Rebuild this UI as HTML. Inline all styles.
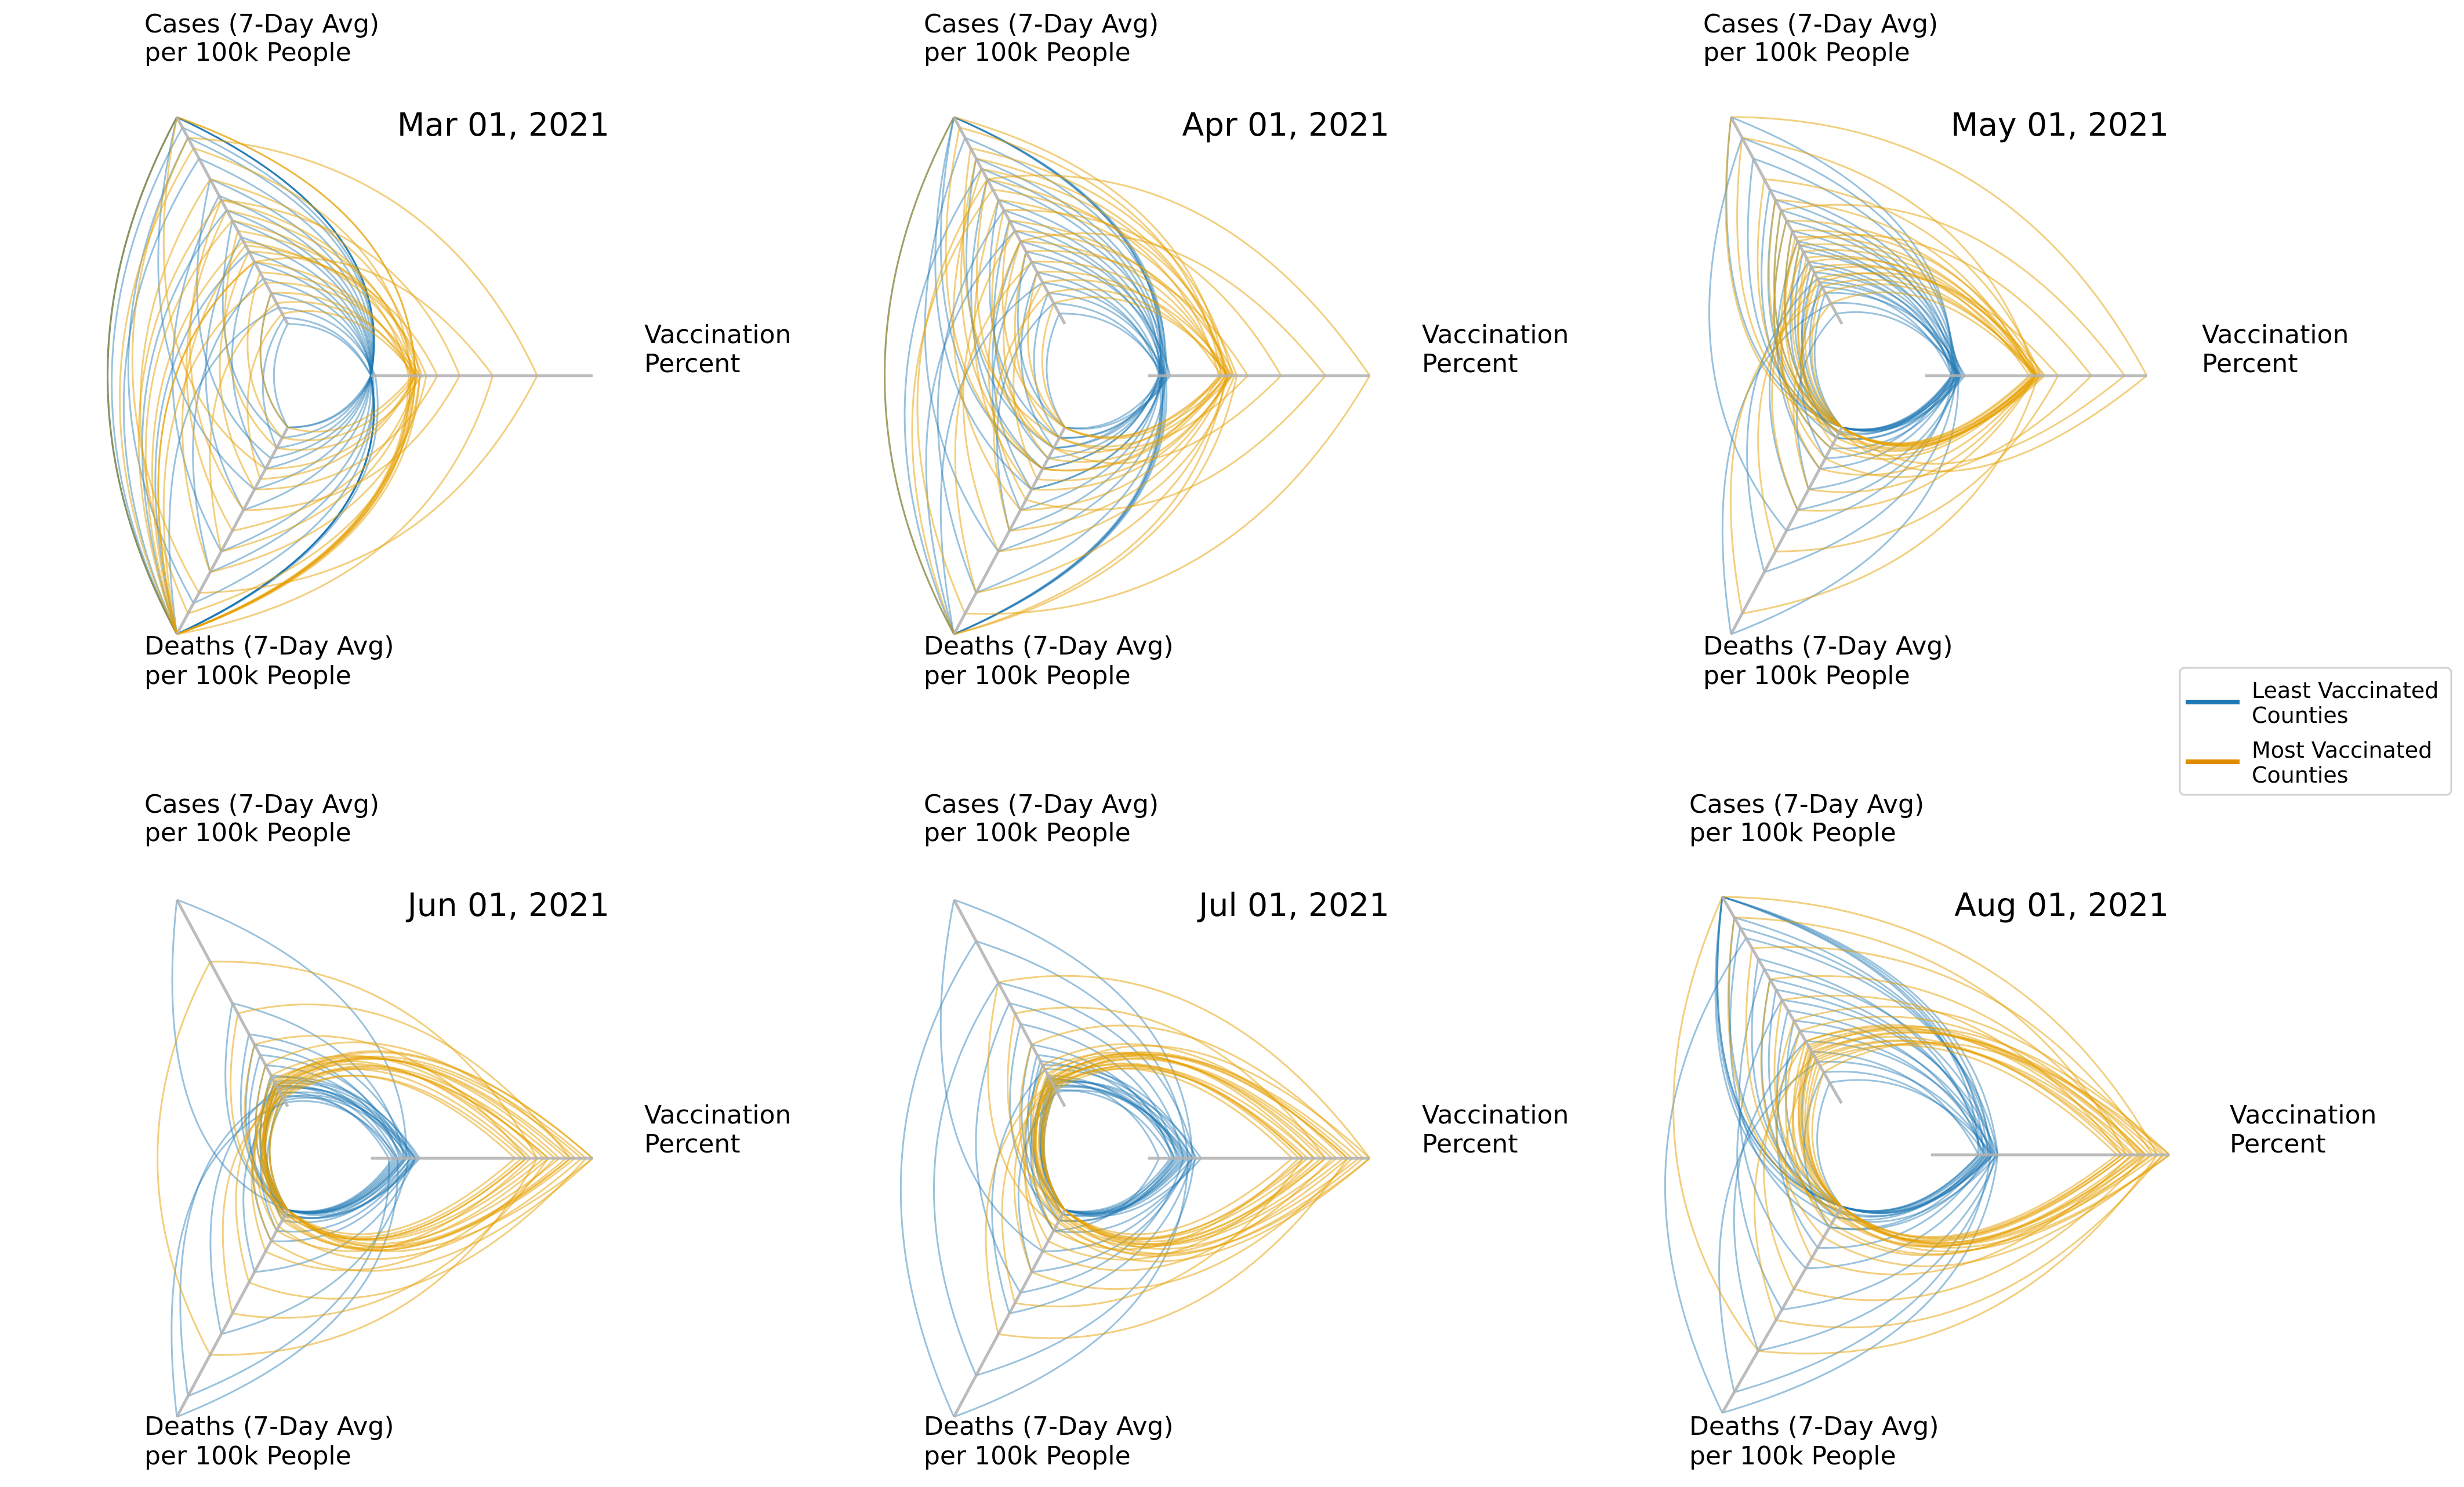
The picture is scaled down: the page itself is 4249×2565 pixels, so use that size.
<!DOCTYPE html>
<html><head><meta charset="utf-8">
<style>
html,body{margin:0;padding:0;background:#fff;}
svg{display:block;}
text{font-family:"DejaVu Sans","Liberation Sans",sans-serif;fill:#000;}
</style></head>
<body>
<svg id="chart" width="4249" height="2565" viewBox="0 0 4249 2565" xmlns="http://www.w3.org/2000/svg">
<g id="panels"></g>
<g>
<rect x="3759" y="1152" width="468" height="219" rx="8" fill="#fff" stroke="#d0d0d0" stroke-width="3"/>
<line x1="3769" y1="1211" x2="3862" y2="1211" stroke="#1f77b4" stroke-width="8"/>
<text x="3883" y="1204" font-size="38">Least Vaccinated</text>
<text x="3883" y="1247" font-size="38">Counties</text>
<line x1="3769" y1="1314" x2="3862" y2="1314" stroke="#e08c00" stroke-width="8"/>
<text x="3883" y="1307" font-size="38">Most Vaccinated</text>
<text x="3883" y="1350" font-size="38">Counties</text>
</g>
</svg>
<script>
const dates = ["Mar 01, 2021","Apr 01, 2021","May 01, 2021","Jun 01, 2021","Jul 01, 2021","Aug 01, 2021"];

const marLeastVacc=[0,0,0,0,0,0,0,0,0,0,0,0,0,0,0,0.01,0.01,0.02,0,0];
const marLeastCases=[1,1,1,1,1,0.95,0.9,0.8,0.7,0.62,0.55,0.5,0.42,0.35,0.3,0.22,0.15,0.08,0.03,0];
const marLeastDeaths=[1,1,1,0.3,1,1,0.85,1,0.15,0.6,1,0.05,0.4,1,0.2,0.7,0,1,0.1,0];
const marMostVacc=[0.2,0.18,0.22,0.2,0.19,0.21,0.17,0.23,0.2,0.25,0.3,0.18,0.2,0.22,0.4,0.19,0.55,0.21,0.75,0.2];
const marMostCases=[1,0.85,0.7,1,0.6,0.55,0.5,0.45,0.4,0.38,0.35,0.3,0.25,0.2,0.6,0.15,0.3,0.1,0.9,0.05];
const marMostDeaths=[1,1,0.9,0.2,1,0.5,1,0.1,1,0.7,0.3,1,0.05,1,0.4,0,1,0.6,0.8,0.25];

const aprLeastVacc=[0.05,0.07,0.06,0.08,0.07,0.06,0.05,0.09,0.07,0.06,0.08,0.07,0.1,0.06,0.05,0.07,0.08,0.06,0.07,0.05];
const aprLeastCases=[1,1,1,0.9,0.8,0.75,0.7,0.6,0.55,0.5,0.45,0.4,0.35,0.3,0.25,0.2,0.15,0.1,0.05,1];
const aprLeastDeaths=[1,0.3,1,0.6,0.1,1,0.2,0.05,0.8,0.15,1,0.3,0,0.4,0.1,1,0.05,0.5,0,0.2];
const aprMostVacc=[0.35,0.33,0.38,0.36,0.32,0.4,0.37,0.34,0.39,0.35,0.45,0.36,0.33,0.38,0.6,0.36,0.8,0.37,1,0.35];
const aprMostCases=[1,0.95,0.85,0.75,0.7,0.65,0.6,0.5,0.45,0.4,0.35,0.3,0.25,0.2,0.55,0.15,0.4,0.1,0.7,0.8];
const aprMostDeaths=[1,0.2,0.05,0.4,0.1,1,0.3,0,0.6,0.15,0.05,0.8,0,0.25,0.1,0.5,0.35,0,0.9,0.2];

const mayLeastVacc=[0.12,0.14,0.15,0.13,0.16,0.15,0.14,0.12,0.17,0.15,0.13,0.16,0.14,0.15,0.12,0.18,0.15,0.14,0.16,0.13];
const mayLeastCases=[1,0.8,0.65,0.55,0.5,0.45,0.4,0.38,0.35,0.3,0.28,0.25,0.22,0.2,0.18,0.15,0.1,0.6,0.05,0.9];
const mayLeastDeaths=[0,0,0.05,0,0.1,0,0.2,0.03,0,0.4,0,0.05,0.7,0,0.15,0,1,0.02,0.3,0.5];
const mayMostVacc=[0.5,0.52,0.48,0.5,0.53,0.49,0.51,0.5,0.47,0.52,0.5,0.54,0.49,0.6,0.5,0.75,0.51,0.9,0.5,1];
const mayMostCases=[0.9,0.7,0.6,0.5,0.45,0.42,0.38,0.35,0.32,0.3,0.27,0.25,0.22,0.2,0.18,0.4,0.15,0.55,0.1,1];
const mayMostDeaths=[0,0.02,0,0.1,0,0.05,0,0.2,0,0.03,0.4,0,0.08,0.6,0,0.15,0.9,0,0.3,0.02];

const junLeastVacc=[0.1,0.15,0.2,0.12,0.18,0.22,0.14,0.19,0.11,0.16,0.2,0.13,0.17,0.21,0.15,0.08,0.18,0.12,0.2,0.16];
const junLeastCases=[0.05,0.1,0.08,0.15,0.03,0.12,0.2,0.06,0.1,0.25,0.04,0.3,0.09,0.14,0.5,0.07,0.35,0.02,0.11,1];
const junLeastDeaths=[0,0,0.02,0,0.05,0,0,0.1,0,0.03,0.3,0,0.6,0.02,0,0.9,0,1,0.15,0];
const junMostVacc=[0.65,0.7,0.75,0.8,0.85,0.9,0.95,1,0.68,0.72,0.78,0.83,0.88,0.92,0.97,0.7,0.8,0.9,1,0.75];
const junMostCases=[0.05,0.08,0.1,0.06,0.12,0.09,0.07,0.11,0.04,0.13,0.15,0.06,0.1,0.2,0.08,0.3,0.05,0.45,0.1,0.7];
const junMostDeaths=[0,0.02,0,0.05,0,0.03,0.08,0,0.01,0.1,0,0.2,0.04,0,0.35,0.02,0.5,0,0.15,0.7];

const julLeastVacc=[0.1,0.15,0.2,0.12,0.18,0.22,0.24,0.14,0.19,0.11,0.16,0.2,0.13,0.17,0.21,0.05,0.18,0.12,0.2,0.16];
const julLeastCases=[0.08,0.1,0.12,0.15,0.09,0.2,0.11,0.25,0.07,0.3,0.13,0.18,0.4,0.1,0.6,0.14,0.8,0.22,1,0.5];
const julLeastDeaths=[0,0.02,0,0.05,0,0.1,0,0,0.3,0.02,0,0.5,0.05,0,0.8,0.1,1,0,0.2,0.4];
const julMostVacc=[0.65,0.7,0.75,0.8,0.85,0.9,0.95,1,0.68,0.72,0.78,0.83,0.88,0.92,0.97,0.7,0.8,0.9,1,0.75];
const julMostCases=[0.1,0.12,0.09,0.14,0.11,0.13,0.1,0.15,0.12,0.08,0.16,0.11,0.2,0.13,0.3,0.1,0.45,0.12,0.6,0.18];
const julMostDeaths=[0,0.02,0,0.04,0,0.06,0,0.02,0.1,0,0.03,0.2,0,0.3,0.05,0.45,0,0.6,0.08,0.15];

const augLeastVacc=[0.2,0.22,0.25,0.28,0.24,0.26,0.21,0.27,0.23,0.25,0.28,0.22,0.26,0.24,0.27,0.2,0.25,0.23,0.28,0.26];
const augLeastCases=[1,1,1,1,0.9,0.85,0.7,0.65,0.6,0.55,0.5,0.45,0.4,0.35,0.3,0.25,0.2,0.15,0.8,0.1];
const augLeastDeaths=[0,0,0.02,0.05,0,0.1,0,0.3,0.03,0,0.5,0.05,0,0.2,0.7,0,0.9,0.1,1,0];
const augMostVacc=[0.78,0.8,0.82,0.85,0.88,0.9,0.92,0.95,0.98,1,0.8,0.84,0.87,0.9,0.93,0.97,0.82,0.89,0.95,1];
const augMostCases=[0.2,0.25,0.22,0.3,0.18,0.28,0.35,0.24,0.4,0.26,0.5,0.21,0.6,0.3,0.75,0.23,0.9,0.27,1,0.15];
const augMostDeaths=[0,0.02,0,0.05,0.01,0,0.08,0,0.15,0.03,0,0.25,0.04,0.4,0,0.55,0.02,0.1,0.7,0];

const leastSets=[[marLeastVacc,marLeastCases,marLeastDeaths],[aprLeastVacc,aprLeastCases,aprLeastDeaths],[mayLeastVacc,mayLeastCases,mayLeastDeaths],[junLeastVacc,junLeastCases,junLeastDeaths],[julLeastVacc,julLeastCases,julLeastDeaths],[augLeastVacc,augLeastCases,augLeastDeaths]];
const mostSets=[[marMostVacc,marMostCases,marMostDeaths],[aprMostVacc,aprMostCases,aprMostDeaths],[mayMostVacc,mayMostCases,mayMostDeaths],[junMostVacc,junMostCases,junMostDeaths],[julMostVacc,julMostCases,julMostDeaths],[augMostVacc,augMostCases,augMostDeaths]];

// layout (pixels)
const geo=[
 {cx:544,cy:648,rx:478,ry:515,lx:249,ly:0,vx:1111,tx:1051,dly:0},
 {cx:1884,cy:648,rx:478,ry:515,lx:1593,ly:0,vx:2452,tx:2396,dly:0},
 {cx:3224,cy:648,rx:478,ry:515,lx:2937,ly:0,vx:3797,tx:3740,dly:0},
 {cx:544,cy:1998,rx:478,ry:515,lx:249,ly:1346,vx:1111,tx:1051,dly:1346},
 {cx:1884,cy:1998,rx:478,ry:515,lx:1593,ly:1346,vx:2452,tx:2396,dly:1346},
 {cx:3227,cy:1992,rx:514,ry:514,lx:2913,ly:1346,vx:3845,tx:3740,dly:1346}
];
const INNER=0.2;
const NS="http://www.w3.org/2000/svg";
const root=document.getElementById('panels');
const ANG=[0,120,240];

function rad(t){return INNER+(1-INNER)*t;}
function pt(g,angDeg,r){const a=angDeg*Math.PI/180;return [g.cx+g.rx*r*Math.cos(a),g.cy-g.ry*r*Math.sin(a)];}
function curve(g,a1,t1,a2,t2,mid){
  const r1=rad(t1),r2=rad(t2);
  const p1=pt(g,a1,r1),p2=pt(g,a2,r2),c=pt(g,mid,(r1+r2)/2);
  return `M${p1[0].toFixed(1)},${p1[1].toFixed(1)} Q${c[0].toFixed(1)},${c[1].toFixed(1)} ${p2[0].toFixed(1)},${p2[1].toFixed(1)}`;
}
function txt(parent,x,y,s,size,anchor){
  const t=document.createElementNS(NS,'text');
  t.setAttribute('x',x);t.setAttribute('y',y);t.setAttribute('font-size',size);
  if(anchor)t.setAttribute('text-anchor',anchor);
  t.textContent=s;parent.appendChild(t);return t;
}

geo.forEach((g,pi)=>{
  const pg=document.createElementNS(NS,'g');
  
  
  root.appendChild(pg);
  [[leastSets[pi],'#1f77b4',0.45,'least'],[mostSets[pi],'#e69f00',0.5,'most']].forEach(([set,col,op,nm])=>{
    const grp=document.createElementNS(NS,'g');
    
    
    grp.setAttribute('fill','none');grp.setAttribute('stroke',col);
    grp.setAttribute('stroke-opacity',op);grp.setAttribute('stroke-width','3');
    pg.appendChild(grp);
    const [V,C,D]=set;
    for(let i=0;i<V.length;i++){
      const d=curve(g,0,V[i],120,C[i],60)+' '+curve(g,120,C[i],240,D[i],180)+' '+curve(g,240,D[i],360,V[i],300);
      const p=document.createElementNS(NS,'path');
      p.setAttribute('d',d);
      
      
      grp.appendChild(p);
    }
  });
  ANG.forEach((a,ai)=>{
    const p1=pt(g,a,INNER),p2=pt(g,a,1);
    const l=document.createElementNS(NS,'line');
    l.setAttribute('x1',p1[0]);l.setAttribute('y1',p1[1]);l.setAttribute('x2',p2[0]);l.setAttribute('y2',p2[1]);
    l.setAttribute('stroke','#b0b0b0');l.setAttribute('stroke-width','5');l.setAttribute('stroke-opacity','0.85');
    
    
    pg.appendChild(l);
  });
  const t1=txt(pg,g.lx,g.ly+56,'Cases (7-Day Avg)',44);
  
  
  const t2=txt(pg,g.lx,g.ly+105,'per 100k People',44);
  
  
  const t3=txt(pg,g.lx,g.dly+1129,'Deaths (7-Day Avg)',44);
  
  
  const t4=txt(pg,g.lx,g.dly+1180,'per 100k People',44);
  
  
  const t5=txt(pg,g.vx,g.dly+592,'Vaccination',44);
  
  
  const t6=txt(pg,g.vx,g.dly+642,'Percent',44);
  
  
  const t7=txt(pg,g.tx,g.dly+234,dates[pi],55,'end');
  
  
});
</script>
</body></html>
